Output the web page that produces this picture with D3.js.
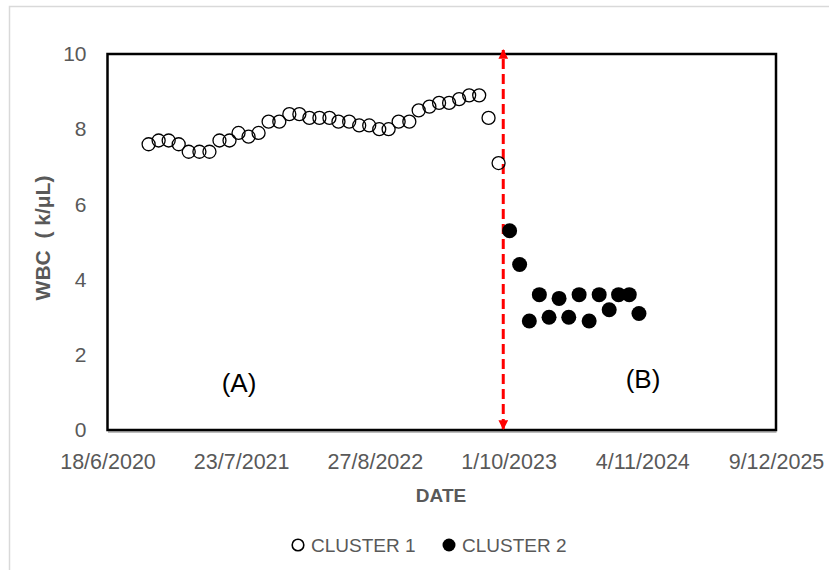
<!DOCTYPE html>
<html>
<head>
<meta charset="utf-8">
<script src="https://cdn.jsdelivr.net/npm/d3@7"></script>
<style>
  body { margin: 0; background: #fff; }
  svg { display: block; font-family: "Liberation Sans", Arial, sans-serif; }
</style>
</head>
<body>
<svg id="chart" width="829" height="570"></svg>
<script>
// Values
var cluster1Dates = [
    "2020-10-19", "2020-11-18", "2020-12-18", "2021-01-17", "2021-02-16", "2021-03-20",
    "2021-04-19", "2021-05-19", "2021-06-18", "2021-07-15", "2021-08-14", "2021-09-13",
    "2021-10-13", "2021-11-14", "2021-12-14", "2022-01-13", "2022-02-12", "2022-03-14",
    "2022-04-13", "2022-05-10", "2022-06-11", "2022-07-11", "2022-08-10", "2022-09-09",
    "2022-10-07", "2022-11-06", "2022-12-08", "2023-01-05", "2023-02-06", "2023-03-07",
    "2023-04-06", "2023-05-06", "2023-06-05", "2023-07-05", "2023-08-02", "2023-09-01"];
var cluster1Wbc = [
    7.6, 7.7, 7.7, 7.6, 7.4, 7.4,
    7.4, 7.7, 7.7, 7.9, 7.8, 7.9,
    8.2, 8.2, 8.4, 8.4, 8.3, 8.3,
    8.3, 8.2, 8.2, 8.1, 8.1, 8.0,
    8.0, 8.2, 8.2, 8.5, 8.6, 8.7,
    8.7, 8.8, 8.9, 8.9, 8.3, 7.1];

var cluster2Dates = [
    "2023-10-04", "2023-11-03", "2023-12-02", "2024-01-01", "2024-01-30", "2024-02-29",
    "2024-03-29", "2024-04-29", "2024-05-29", "2024-06-28", "2024-07-28", "2024-08-25",
    "2024-09-26", "2024-10-25"];
var cluster2Wbc = [5.3, 4.4, 2.9, 3.6, 3.0, 3.5, 3.0, 3.6, 2.9, 3.6, 3.2, 3.6, 3.6, 3.1];

var xTickLabels = ["18/6/2020", "23/7/2021", "27/8/2022", "1/10/2023", "4/11/2024", "9/12/2025"];
var yTickValues = [0, 2, 4, 6, 8, 10];
var cutDate = "2023-09-15";
var seriesNames = ["CLUSTER 1", "CLUSTER 2"];

var parseIso = d3.timeParse("%Y-%m-%d");
var parseLabel = d3.timeParse("%d/%m/%Y");
var fmtLabel = d3.timeFormat("%-d/%-m/%Y");

var xTicks = xTickLabels.map(parseLabel);

var pts1 = cluster1Dates.map(function(d, i){ return {date: parseIso(d), v: cluster1Wbc[i]}; });
var pts2 = cluster2Dates.map(function(d, i){ return {date: parseIso(d), v: cluster2Wbc[i]}; });

var svg = d3.select("#chart");
var L = 107.5, R = 776, T = 54, B = 430;

var x = d3.scaleTime()
    .domain([xTicks[0], xTicks[xTicks.length - 1]])
    .range([L, R]);

var y = d3.scaleLinear()
    .domain([0, 10])
    .range([B, T]);

// Outer chart frame (light grey, runs off the page)
svg.append("path")
    .attr("d", "M9.5,600 V6.5 H900")
    .attr("fill", "none")
    .attr("stroke", "#d9d9d9")
    .attr("stroke-width", 1.5);

// Axes
var gx = svg.append("g")
    .attr("transform", "translate(0," + B + ")")
    .call(d3.axisBottom(x).tickValues(xTicks).tickFormat(fmtLabel).tickSize(0).tickPadding(24));
gx.select(".domain").attr("stroke", "#a6a6a6").attr("stroke-width", 1.5).attr("transform", "translate(0,1.5)");
gx.selectAll("text").attr("fill", "#595959").style("font-size", "21.5px").style("font-family", "Liberation Sans, Arial, sans-serif");

var gy = svg.append("g")
    .attr("transform", "translate(" + L + ",0)")
    .call(d3.axisLeft(y).tickValues(yTickValues).tickSize(0).tickPadding(21));
gy.select(".domain").remove();
gy.selectAll("text").attr("fill", "#595959").style("font-size", "21px").style("font-family", "Liberation Sans, Arial, sans-serif");

// Plot border
svg.append("rect")
    .attr("x", L).attr("y", T)
    .attr("width", R - L).attr("height", B - T)
    .attr("fill", "none")
    .attr("stroke", "#000")
    .attr("stroke-width", 2.5);

// Axis titles
svg.append("text")
    .attr("transform", "translate(50,238) rotate(-90)")
    .attr("text-anchor", "middle")
    .attr("fill", "#595959")
    .style("font-size", "21px")
    .style("font-weight", "bold")
    .style("white-space", "pre")
    .text("WBC  ( k/μL)");

svg.append("text")
    .attr("x", 441).attr("y", 502)
    .attr("text-anchor", "middle")
    .attr("fill", "#595959")
    .style("font-size", "19px")
    .style("font-weight", "bold")
    .text("DATE");

// Red dashed separator with arrows
var defs = svg.append("defs");
defs.append("marker")
    .attr("id", "arr")
    .attr("viewBox", "0 0 10 10")
    .attr("refX", 9).attr("refY", 5)
    .attr("markerWidth", 3.2).attr("markerHeight", 3.2)
    .attr("markerUnits", "strokeWidth")
    .attr("orient", "auto-start-reverse")
  .append("path")
    .attr("d", "M0,0 L10,5 L0,10 Z")
    .attr("fill", "#ff0000");

var cx = x(parseIso(cutDate));
svg.append("line")
    .attr("x1", cx).attr("x2", cx)
    .attr("y1", y(0) - 1).attr("y2", y(10) - 4)
    .attr("stroke", "#ff0000")
    .attr("stroke-width", 3)
    .attr("stroke-dasharray", "10,5")
    .attr("marker-start", "url(#arr)")
    .attr("marker-end", "url(#arr)");

// Points
svg.append("g").selectAll("circle")
    .data(pts1)
  .enter().append("circle")
    .attr("cx", function(d){ return x(d.date); })
    .attr("cy", function(d){ return y(d.v); })
    .attr("r", 6.5)
    .attr("fill", "#fff")
    .attr("fill-opacity", 0)
    .attr("stroke", "#000")
    .attr("stroke-width", 1.3);

svg.append("g").selectAll("circle")
    .data(pts2)
  .enter().append("circle")
    .attr("cx", function(d){ return x(d.date); })
    .attr("cy", function(d){ return y(d.v); })
    .attr("r", 7.5)
    .attr("fill", "#000");

// Region labels
svg.append("text")
    .attr("x", 239).attr("y", 392)
    .attr("text-anchor", "middle")
    .attr("fill", "#000")
    .style("font-size", "26px")
    .text("(A)");

svg.append("text")
    .attr("x", 643).attr("y", 388)
    .attr("text-anchor", "middle")
    .attr("fill", "#000")
    .style("font-size", "26px")
    .text("(B)");

// Legend
var leg = [
    {name: seriesNames[0], cx: 298, filled: false},
    {name: seriesNames[1], cx: 449, filled: true}];

var lg = svg.append("g").selectAll("g")
    .data(leg)
  .enter().append("g");

lg.append("circle")
    .attr("cx", function(d){ return d.cx; })
    .attr("cy", 545)
    .attr("r", function(d){ return d.filled ? 6.5 : 5.8; })
    .attr("fill", function(d){ return d.filled ? "#000" : "#fff"; })
    .attr("stroke", "#000")
    .attr("stroke-width", function(d){ return d.filled ? 0 : 1.6; });

lg.append("text")
    .attr("x", function(d){ return d.cx + 13; })
    .attr("y", 552)
    .attr("fill", "#595959")
    .style("font-size", "19px")
    .text(function(d){ return d.name; });
</script>
</body>
</html>
